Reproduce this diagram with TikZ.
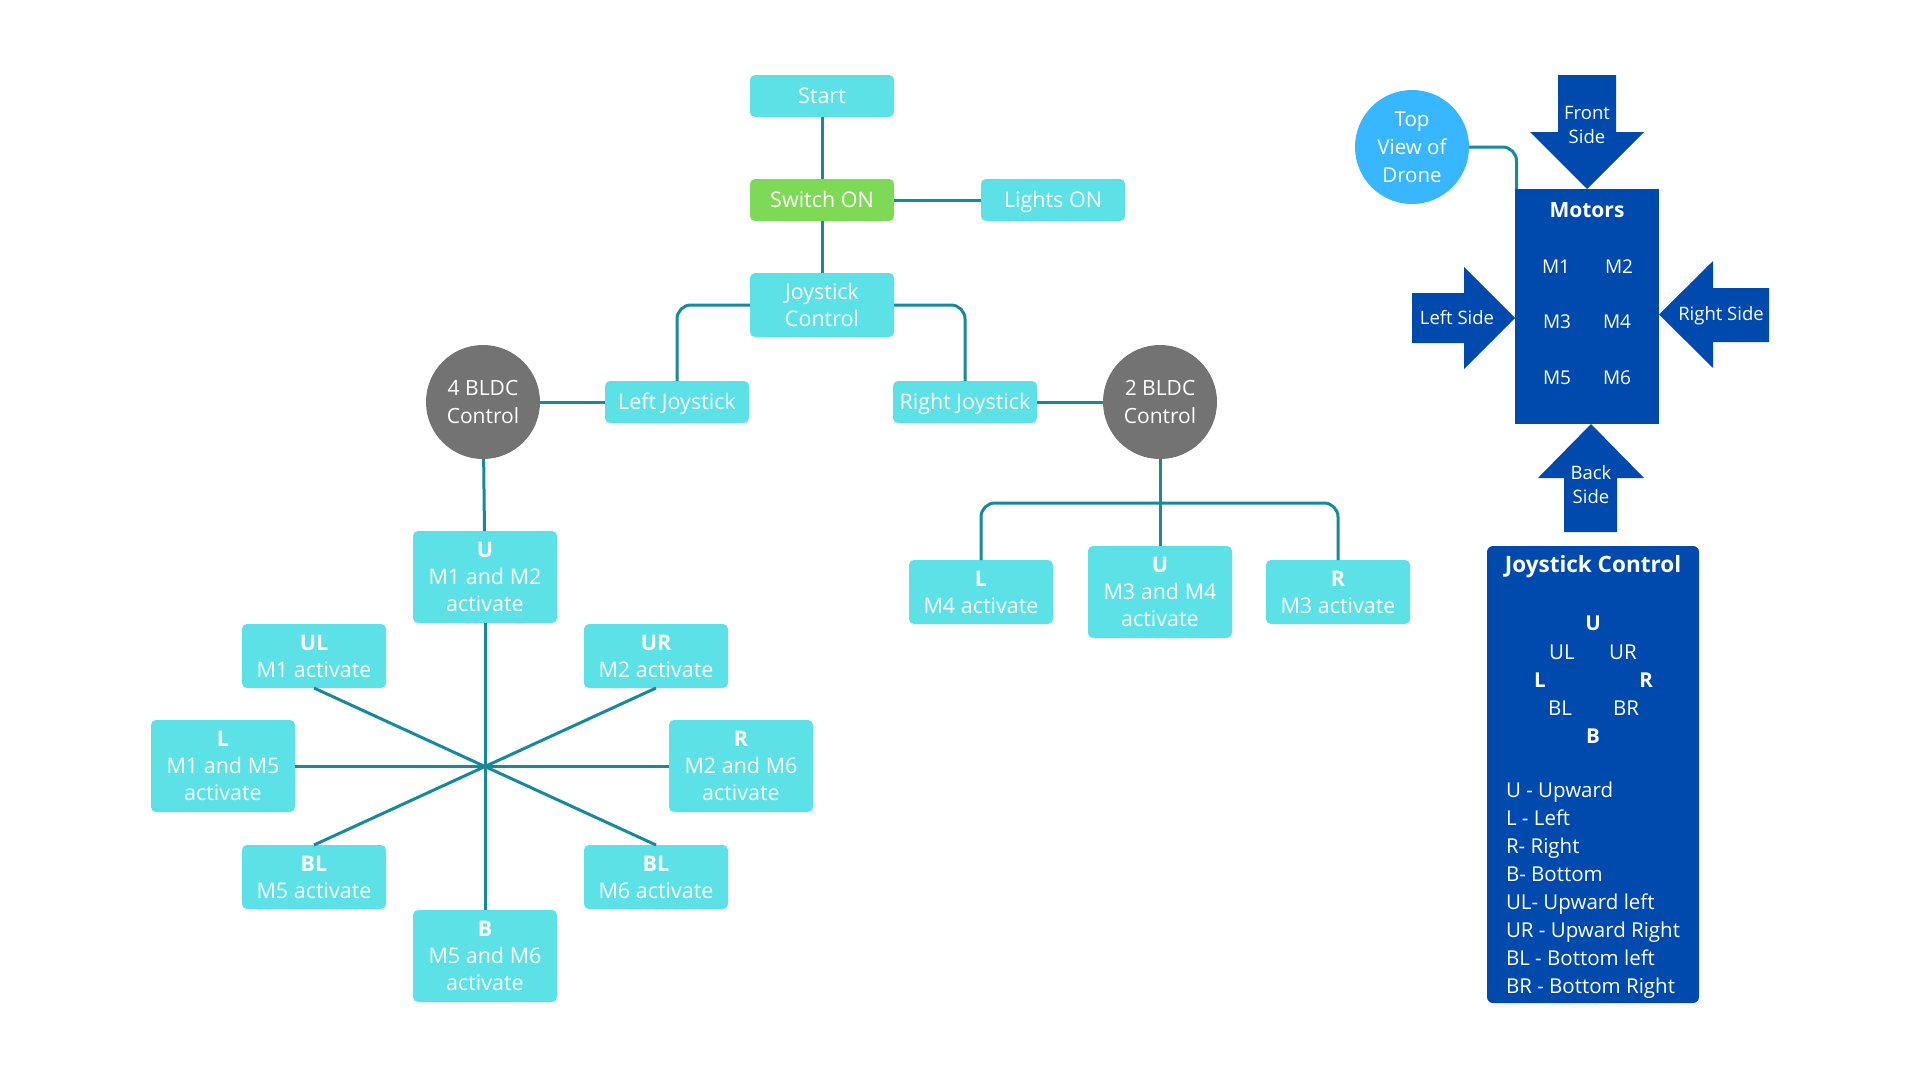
\documentclass[tikz,border=0pt]{standalone}
\usepackage{fontspec}
\setmainfont{Open Sans}
\definecolor{cyanbox}{HTML}{5CE1E6}
\definecolor{greenbox}{HTML}{7ED957}
\definecolor{graycirc}{HTML}{737373}
\definecolor{lightblue}{HTML}{38B6FF}
\definecolor{darkblue}{HTML}{004AAD}
\definecolor{connc}{HTML}{16899B}
\begin{document}
\begin{tikzpicture}[x=1pt,y=-1pt,
  every node/.style={font=\fontsize{21.5}{27}\selectfont, text=white, inner sep=0pt, outer sep=0pt},
  cbox/.style={fill=cyanbox, rounded corners=5pt, minimum width=144pt, align=center},
  box1/.style={cbox, minimum height=42pt, text height=20pt, text depth=4.6pt},
  box2/.style={cbox, minimum height=64pt},
  box3/.style={cbox, minimum height=92pt},
  circ/.style={circle, fill=graycirc, minimum size=114pt, align=center, font=\fontsize{21}{28}\selectfont},
  conn/.style={draw=connc, line width=3pt},
  arrtxt/.style={align=center, font=\fontsize{18.5}{24}\selectfont},
  mtxt/.style={font=\fontsize{19}{24}\selectfont},
  legtxt/.style={font=\fontsize{20.5}{28}\selectfont},
  title/.style={font=\bfseries\fontsize{21}{25}\selectfont},
  leg/.style={legtxt, anchor=base west},
]
\fill[white] (0,0) rectangle (1920,1080);
\useasboundingbox (0,0) rectangle (1920,1080);

% ---- main flow ----
\node[box1] (start) at (822,96) {Start};
\node[box1, fill=greenbox] (switch) at (822,200) {Switch ON};
\node[box1] (lights) at (1053,200) {Lights ON};
\node[box2] (joy) at (822,305) {Joystick\\Control};
\node[box1] (ljoy) at (677,402) {Left Joystick};
\node[box1] (rjoy) at (965,402) {Right Joystick};
\node[circ] (b4) at (483,402) {4 BLDC\\Control};
\node[circ] (b2) at (1160,402) {2 BLDC\\Control};

\draw[conn] (start) -- (switch);
\draw[conn] (switch) -- (lights);
\draw[conn] (switch) -- (joy);
\draw[conn, rounded corners=14pt] (joy.west) -| (ljoy.north);
\draw[conn, rounded corners=14pt] (joy.east) -| (rjoy.north);
\draw[conn] (ljoy) -- (b4);
\draw[conn] (rjoy) -- (b2);

% ---- left star ----
\node[box3] (su) at (485,577) {\textbf{U}\\M1 and M2\\activate};
\node[box2] (sul) at (314,656) {\textbf{UL}\\M1 activate};
\node[box2] (sur) at (656,656) {\textbf{UR}\\M2 activate};
\node[box3] (sl) at (223,766) {\textbf{L}\\M1 and M5\\activate};
\node[box3] (sr) at (741,766) {\textbf{R}\\M2 and M6\\activate};
\node[box2] (sbl) at (314,877) {\textbf{BL}\\M5 activate};
\node[box2] (sbr) at (656,877) {\textbf{BL}\\M6 activate};
\node[box3] (sb) at (485,956) {\textbf{B}\\M5 and M6\\activate};

\draw[conn] (b4) -- (su);
\draw[conn] (su) -- (sb);
\draw[conn] (sl) -- (sr);
\draw[conn] (sul.south) -- (sbr.north);
\draw[conn] (sur.south) -- (sbl.north);

% ---- right branch ----
\node[box2] (rl) at (981,592) {\textbf{L}\\M4 activate};
\node[box3] (ru) at (1160,592) {\textbf{U}\\M3 and M4\\activate};
\node[box2] (rr) at (1338,592) {\textbf{R}\\M3 activate};
\coordinate (rbr) at (1160,503);
\draw[conn] (b2) -- (ru);
\draw[conn, rounded corners=14pt] (rl.north) |- (rbr) -| (rr.north);

% ---- top view of drone ----
\node[circle, fill=lightblue, minimum size=114pt, align=center, font=\fontsize{20.5}{28}\selectfont] (top) at (1412,147) {Top\\View of\\Drone};
\node[fill=darkblue, minimum width=144pt, minimum height=235pt] (motors) at (1587,306.5) {};
\draw[conn, rounded corners=14pt] (top.east) -| ([xshift=1.5pt]motors.north west);
\node[title] (mtitle) at (1587,210) {Motors};
\node[mtxt] (m1) at (1556,267) {M1};
\node[mtxt] (m2) at (1619,267) {M2};
\node[mtxt] (m3) at (1557,322) {M3};
\node[mtxt] (m4) at (1617,322) {M4};
\node[mtxt] (m5) at (1557,378) {M5};
\node[mtxt] (m6) at (1617,378) {M6};

% arrows
\fill[darkblue] (1558,75) -- (1616,75) -- (1616,132) -- (1644,132) -- (1587,189) -- (1530,132) -- (1558,132) -- cycle;
\node[arrtxt] (ftxt) at (1587,125) {Front\\Side};
\fill[darkblue] (1412,293) -- (1464,293) -- (1464,267) -- (1515,318) -- (1464,369) -- (1464,343) -- (1412,343) -- cycle;
\node[arrtxt] (ltxt) at (1457,318) {Left Side};
\fill[darkblue] (1769,288) -- (1713,288) -- (1713,261) -- (1659,314.5) -- (1713,368) -- (1713,342) -- (1769,342) -- cycle;
\node[arrtxt] (rtxt) at (1721,316) {Right Side};
\fill[darkblue] (1564,532) -- (1617,532) -- (1617,478) -- (1644,478) -- (1591,424) -- (1538,478) -- (1564,478) -- cycle;
\node[arrtxt] (btxt) at (1591,485) {Back\\Side};

% ---- legend ----
\node[fill=darkblue, rounded corners=6pt, minimum width=212pt, minimum height=457pt] (legend) at (1593,774.5) {};
\node[title, font=\bfseries\fontsize{22.5}{26}\selectfont] (ltitle) at (1593,567) {Joystick Control};
\node[legtxt] (dU) at (1593,623) {\textbf{U}};
\node[legtxt] (dUL) at (1562,652) {UL};
\node[legtxt] (dUR) at (1623,652) {UR};
\node[legtxt] (dL) at (1540,680) {\textbf{L}};
\node[legtxt] (dR) at (1646,680) {\textbf{R}};
\node[legtxt] (dBL) at (1560,708) {BL};
\node[legtxt] (dBR) at (1626,708) {BR};
\node[legtxt] (dB) at (1593,736) {\textbf{B}};
\node[leg] (l1) at (1506,797) {U - Upward};
\node[leg] (l2) at (1506,825) {L - Left};
\node[leg] (l3) at (1506,853) {R- Right};
\node[leg] (l4) at (1506,881) {B- Bottom};
\node[leg] (l5) at (1506,909) {UL- Upward left};
\node[leg] (l6) at (1506,937) {UR - Upward Right};
\node[leg] (l7) at (1506,965) {BL - Bottom left};
\node[leg] (l8) at (1506,993) {BR - Bottom Right};
\end{tikzpicture}
\end{document}
